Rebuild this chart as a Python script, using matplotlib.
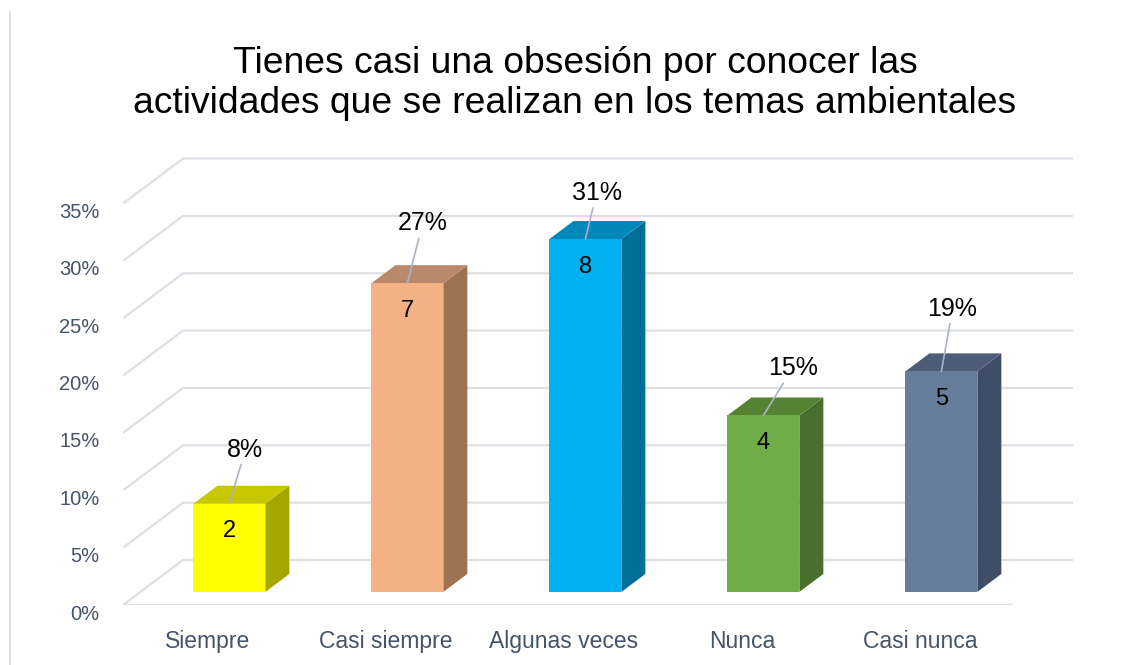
import matplotlib
matplotlib.use('Agg')
import matplotlib.pyplot as plt
from matplotlib.patches import Polygon
from matplotlib.transforms import ScaledTranslation

plt.rcParams['font.family'] = ['Liberation Sans', 'DejaVu Sans']

# data
categories = ['Siempre', 'Casi siempre', 'Algunas veces', 'Nunca', 'Casi nunca']
counts = [2, 7, 8, 4, 5]
y_ticks = [0, 5, 10, 15, 20, 25, 30, 35]
title = ('Tienes casi una obsesión por conocer las\n'
         'actividades que se realizan en los temas ambientales')

# styles
front_colors = ['#FFFF00', '#F4B183', '#00B0F0', '#70AD47', '#667D9C']
top_colors = ['#C8C800', '#BA886B', '#0088BA', '#568234', '#4D5D78']
side_colors = ['#A6A600', '#9C7454', '#006F98', '#4A6E2D', '#3F4E66']
label_offsets = [(11.5, 39), (11, 43), (8, 33), (21, 34), (8, 45)]  # points

total = sum(counts)
pcts = [c / total * 100 for c in counts]
n = len(categories)

W_PX, H_PX = 1129, 665
PX_X = 178.0     # pixels per category
PX_Y = 11.47     # pixels per percent
DX, DY = 60 / PX_X, 45 / PX_Y   # depth of the 3d box
D0, D1 = 0.29, 0.69             # bar depth range
BAR_W = 0.404

fig = plt.figure(figsize=(W_PX / 100, H_PX / 100), dpi=100)
ax = fig.add_axes([123 / W_PX, 60 / H_PX, 1006 / W_PX, 605 / H_PX])
ax.set_xlim(-0.5, -0.5 + 1006 / PX_X)
ax.set_ylim(0, 605 / PX_Y)
ax.patch.set_visible(False)
for s in ax.spines.values():
    s.set_visible(False)

# back wall / side wall gridlines
grid_kw = dict(color='#DDDFE4', lw=1.6, zorder=0, solid_capstyle='butt')
for t in y_ticks:
    ax.plot([-0.5, -0.5 + DX, n - 0.5 + DX], [t, t + DY, t + DY], **grid_kw)
ax.plot([-0.5, n - 0.5], [0, 0], **grid_kw)

# 3d-looking bars
ddx = (D1 - D0) * DX
ddy = (D1 - D0) * DY
for i, (c, p) in enumerate(zip(counts, pcts)):
    x0 = i - BAR_W / 2 + D0 * DX
    x1 = x0 + BAR_W
    yb = D0 * DY
    yt = p + D0 * DY
    side = [(x1, yb), (x1 + ddx, yb + ddy), (x1 + ddx, yt + ddy), (x1, yt)]
    top = [(x0, yt), (x1, yt), (x1 + ddx, yt + ddy), (x0 + ddx, yt + ddy)]
    front = [(x0, yb), (x1, yb), (x1, yt), (x0, yt)]
    ax.add_patch(Polygon(side, closed=True, facecolor=side_colors[i], edgecolor='none', zorder=2))
    ax.add_patch(Polygon(top, closed=True, facecolor=top_colors[i], edgecolor='none', zorder=2))
    ax.add_patch(Polygon(front, closed=True, facecolor=front_colors[i], edgecolor='none', zorder=3))

    xc = (x0 + x1) / 2
    ax.annotate(str(c), xy=(xc, yt), xytext=(0, -20), textcoords='offset points',
                ha='center', va='center', fontsize=17, color='black', zorder=5)
    ax.annotate(f'{p:.0f}%', xy=(xc, yt), xytext=label_offsets[i], textcoords='offset points',
                ha='center', va='center', fontsize=18, color='black', zorder=5,
                arrowprops=dict(arrowstyle='-', color='#A9B4C6', lw=1.2, shrinkA=0, shrinkB=0))

ax.set_yticks(y_ticks)
ax.set_yticklabels([f'{t}%' for t in y_ticks])
ax.tick_params(axis='y', length=0, pad=17, labelsize=14.5, labelcolor='#44546A')
ax.set_xticks(range(n))
ax.set_xticklabels(categories)
ax.tick_params(axis='x', length=0, pad=18, labelsize=16.5, labelcolor='#44546A')

down = ScaledTranslation(0, -0.07, fig.dpi_scale_trans)
for lab in ax.get_yticklabels():
    lab.set_transform(lab.get_transform() + down)
left = ScaledTranslation(-0.04, 0, fig.dpi_scale_trans)
for lab in ax.get_xticklabels():
    lab.set_transform(lab.get_transform() + left)

fig.text(575 / W_PX, 1 - 46 / H_PX, title, ha='center', va='top', fontsize=26.8,
         linespacing=1.2, color='black')

# chart-area border at the left
fig.add_artist(plt.Line2D([10 / W_PX, 10 / W_PX], [0, 1 - 12 / H_PX],
                          transform=fig.transFigure, color='#DEE3EA', lw=1.5))

fig.savefig('out.png', dpi=100)
